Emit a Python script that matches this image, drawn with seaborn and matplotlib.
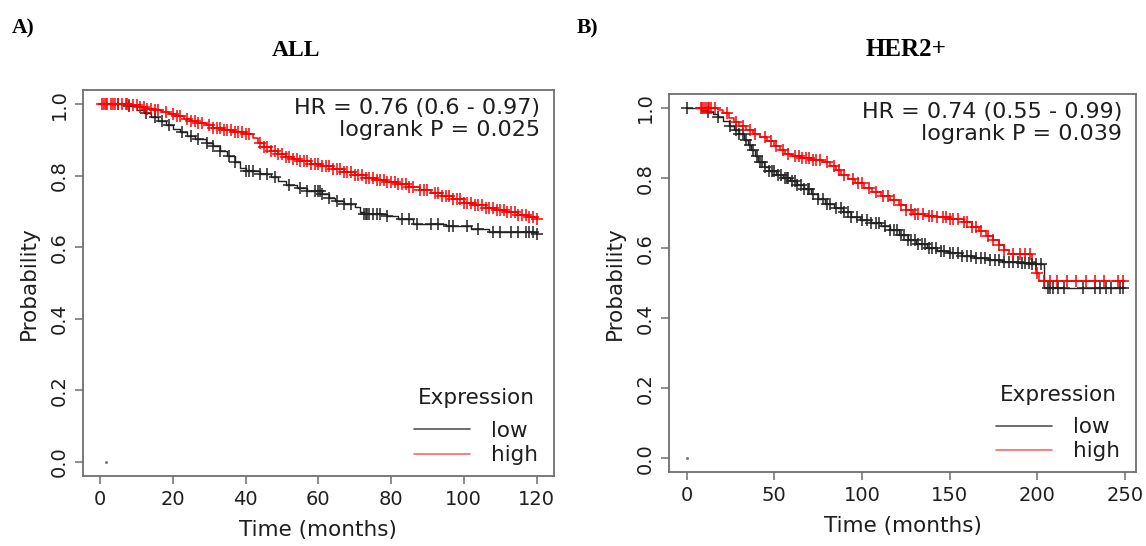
import numpy as np
import pandas as pd
import matplotlib
matplotlib.use("Agg")
import matplotlib.pyplot as plt
from matplotlib.lines import Line2D
import seaborn as sns

# ---- ALL patients: Kaplan-Meier step values (months, survival probability) ----
all_low_t = [0, 7, 10, 12, 14, 16, 18, 20, 22, 24, 26, 29, 31, 33, 35, 37, 38.5, 40, 44, 47,
             49, 51, 54, 57, 61, 63, 64.5, 67, 70, 71.5, 72.5, 79, 82, 86, 95, 102, 107, 120]
all_low_s = [1.0, 0.995, 0.985, 0.975, 0.965, 0.953, 0.942, 0.932, 0.922, 0.912, 0.903, 0.893,
             0.883, 0.870, 0.855, 0.838, 0.822, 0.812, 0.805, 0.796, 0.785, 0.773, 0.766, 0.757,
             0.750, 0.738, 0.728, 0.720, 0.714, 0.700, 0.694, 0.688, 0.680, 0.666, 0.660, 0.651,
             0.643, 0.638]
all_low_cens = [5, 8, 12.5, 15, 17, 19, 22.5, 25, 27, 29.5, 31, 33, 35.5, 37, 40, 41, 42, 44, 46,
                48, 52, 55, 57, 59, 60, 60.5, 61, 63, 65, 67, 69, 72.5, 73, 73.5, 74, 75, 76, 77,
                79, 83, 85, 87, 91, 93, 96, 97, 101, 104, 108, 110, 113, 115, 117, 118, 119, 120]

all_high_t = [0, 8, 11, 13, 15, 17, 19, 21, 23, 25, 27, 29, 31, 34, 37, 40, 42, 43.5, 45, 47,
              49, 51, 53, 55, 58, 61, 64, 67, 70, 73, 76, 79, 82, 85, 88, 91, 94, 97, 100, 103,
              106, 109, 112, 115, 118, 120]
all_high_s = [1.0, 0.997, 0.993, 0.988, 0.983, 0.977, 0.972, 0.966, 0.960, 0.954, 0.948, 0.942,
              0.935, 0.928, 0.922, 0.916, 0.905, 0.893, 0.881, 0.870, 0.861, 0.853, 0.846, 0.840,
              0.833, 0.826, 0.819, 0.811, 0.803, 0.795, 0.789, 0.782, 0.776, 0.768, 0.761, 0.753,
              0.743, 0.734, 0.725, 0.718, 0.711, 0.705, 0.698, 0.691, 0.684, 0.680]
all_high_cens = [0.5, 1, 1.5, 2, 3, 3.5, 4, 5, 6, 7, 7.5, 8, 9, 10, 11, 12, 13, 14, 15, 16, 18,
                 20, 21, 22, 24, 25, 26, 27, 28, 30, 31, 32, 33, 34, 35, 36, 37, 38, 39, 40, 41,
                 44, 45, 46, 47, 48, 49, 50, 51, 52, 53, 54, 55, 56, 57, 58, 59, 60, 61, 62, 63,
                 64, 65, 66, 67, 68, 69, 70, 71, 72, 73, 74, 75, 76, 77, 78, 79, 80, 81, 82, 83,
                 84, 85, 86, 88, 89, 90, 92, 93, 94, 95, 96, 97, 98, 99, 100, 101, 102, 103, 104,
                 105, 106, 107, 108, 109, 110, 111, 112, 113, 114, 115, 116, 117, 118, 119, 120]

# ---- HER2+ patients ----
her2_low_t = [0, 8, 12, 15, 18, 21, 24, 27, 30, 33, 35, 37, 39, 41, 44, 47, 51, 55, 59, 63, 67,
              71, 75, 79, 84, 89, 94, 99, 105, 111, 116, 121, 126, 131, 137, 143, 150, 157, 164,
              172, 180, 190, 196, 204, 248]
her2_low_s = [1.0, 0.995, 0.990, 0.983, 0.973, 0.962, 0.950, 0.938, 0.925, 0.910, 0.895, 0.880,
              0.862, 0.845, 0.832, 0.820, 0.810, 0.800, 0.791, 0.780, 0.768, 0.754, 0.740, 0.727,
              0.715, 0.703, 0.690, 0.680, 0.672, 0.662, 0.652, 0.638, 0.624, 0.612, 0.601, 0.592,
              0.585, 0.578, 0.572, 0.566, 0.561, 0.558, 0.555, 0.487, 0.487]
her2_low_cens = [0, 12, 18, 25, 28, 30, 32, 34, 36, 38, 40, 42, 43, 45, 47, 49, 50, 52, 54, 56,
                 57, 58, 60, 62, 63, 65, 67, 69, 70, 72, 75, 78, 80, 82, 85, 88, 90, 92, 94, 97,
                 100, 103, 105, 108, 110, 113, 116, 118, 120, 122, 124, 126, 128, 130, 132, 134,
                 136, 138, 140, 142, 145, 147, 150, 152, 155, 157, 160, 162, 165, 168, 170, 173,
                 176, 178, 181, 184, 186, 189, 191, 193, 195, 197, 199, 202, 206, 207, 209, 212,
                 215, 226, 233, 236, 239, 242, 247, 249]

her2_high_t = [6, 18, 21, 24, 27, 30, 34, 38, 42, 46, 50, 53, 56, 60, 66, 72, 78, 82, 85, 88, 92,
               96, 101, 106, 111, 116, 121, 125, 129, 136, 143, 150, 158, 163, 167, 171, 175,
               178, 181, 184, 197, 199, 201, 250]
her2_high_s = [1.0, 0.995, 0.985, 0.972, 0.960, 0.948, 0.937, 0.926, 0.916, 0.905, 0.893, 0.880,
               0.869, 0.862, 0.857, 0.853, 0.845, 0.835, 0.822, 0.810, 0.797, 0.786, 0.772,
               0.760, 0.748, 0.736, 0.722, 0.708, 0.698, 0.692, 0.688, 0.684, 0.676, 0.660,
               0.648, 0.636, 0.622, 0.608, 0.596, 0.584, 0.560, 0.530, 0.507, 0.507]
her2_high_cens = [8, 9, 10, 11, 12, 13, 14, 16, 23, 28, 32, 36, 39, 45, 48, 51, 55, 58, 62, 64,
                  66, 68, 70, 72, 74, 76, 80, 84, 87, 90, 95, 98, 100, 104, 108, 112, 115, 118,
                  122, 125, 128, 130, 132, 135, 138, 140, 143, 146, 148, 150, 152, 155, 158, 160,
                  163, 165, 168, 172, 175, 178, 181, 186, 190, 193, 196, 200, 204, 207, 211, 217,
                  222, 228, 233, 238, 246, 249]

group_labels = ["low", "high"]
panel_titles = ["ALL", "HER2+"]
panel_tags = ["A)", "B)"]
hr_texts = ["HR = 0.76 (0.6 - 0.97)\nlogrank P = 0.025",
            "HR = 0.74 (0.55 - 0.99)\nlogrank P = 0.039"]
x_ticks = [[0, 20, 40, 60, 80, 100, 120], [0, 50, 100, 150, 200, 250]]
y_ticks = [0.0, 0.2, 0.4, 0.6, 0.8, 1.0]

sns.set_theme(style="white")
plt.rcParams["font.family"] = ["DejaVu Sans"]

fig = plt.figure(figsize=(11.46, 5.46), dpi=100)
axA = fig.add_axes([0.0722, 0.1282, 0.4112, 0.7070])
axB = fig.add_axes([0.5838, 0.1350, 0.4075, 0.6928])

spine_col = "#6e6e6e"
text_col = "#1e1e1e"


def step_value(times, surv, at):
    idx = np.searchsorted(np.asarray(times), np.asarray(at), side="right") - 1
    idx = np.clip(idx, 0, len(surv) - 1)
    return np.asarray(surv)[idx]


def km_panel(ax, curves, xlim, xt, origin_x):
    for times, surv, cens, col, lw in curves:
        df = pd.DataFrame({"t": times, "s": surv})
        sns.lineplot(data=df, x="t", y="s", ax=ax, color=col, linewidth=lw,
                     drawstyle="steps-post", estimator=None, sort=False, legend=False)
        cdf = pd.DataFrame({"t": cens, "s": step_value(times, surv, cens)})
        sns.scatterplot(data=cdf, x="t", y="s", ax=ax, marker="+", color=col, s=80,
                        linewidth=1.1, legend=False, zorder=3)
    ax.plot([origin_x], [0.0], marker="s", ms=1.0, color="#777777", lw=0)
    ax.set_xlim(*xlim)
    ax.set_ylim(-0.04, 1.04)
    ax.set_xticks(xt)
    ax.set_yticks(y_ticks)
    ax.set_yticklabels([f"{v:.1f}" for v in y_ticks], rotation=90, va="center")
    ax.tick_params(axis="both", which="both", direction="out", length=6, width=1.1,
                   color=spine_col, labelsize=14, labelcolor=text_col, pad=4,
                   bottom=True, left=True)
    ax.set_xlabel("Time (months)", fontsize=15.5, color=text_col, labelpad=8)
    ax.set_ylabel("Probability", fontsize=15.5, color=text_col, labelpad=8)
    for sp in ax.spines.values():
        sp.set_color(spine_col)
        sp.set_linewidth(1.3)
    ax.grid(False)


km_panel(axA, [
    (all_low_t, all_low_s, all_low_cens, "#222222", 1.0),
    (all_high_t, all_high_s, all_high_cens, "#ff0000", 1.1),
], (-4.8, 124.8), x_ticks[0], 1.5)

km_panel(axB, [
    (her2_low_t, her2_low_s, her2_low_cens, "#222222", 1.0),
    (her2_high_t, her2_high_s, her2_high_cens, "#ff0000", 1.1),
], (-10, 256.3), x_ticks[1], 0)

for ax, txt in zip([axA, axB], hr_texts):
    ax.text(0.97, 0.978, txt, transform=ax.transAxes, ha="right", va="top",
            fontsize=16, color=text_col, linespacing=1.1)
    handles = [Line2D([0], [0], color="#555555", lw=1.2),
               Line2D([0], [0], color="#ff6666", lw=1.2)]
    leg = ax.legend(handles, group_labels, title="Expression", loc="lower right",
                    bbox_to_anchor=(0.985, 0.006), frameon=False, fontsize=15.5,
                    title_fontsize=15.5, handlelength=2.6, handletextpad=1.0,
                    labelspacing=0.2, borderaxespad=0)
    leg._legend_box.sep = 9
    for t in leg.get_texts():
        t.set_color(text_col)
    leg.get_title().set_color(text_col)

serif = ["Liberation Serif", "DejaVu Serif"]
fig.text(12 / 1146, 1 - 28 / 546, panel_tags[0], family=serif, fontweight="bold",
         fontsize=15.5, ha="left", va="center", color="black")
fig.text(577 / 1146, 1 - 28 / 546, panel_tags[1], family=serif, fontweight="bold",
         fontsize=15.5, ha="left", va="center", color="black")
fig.text(296 / 1146, 1 - 50 / 546, panel_titles[0], family=serif, fontweight="bold",
         fontsize=17, ha="center", va="center", color="black")
fig.text(906 / 1146, 1 - 50 / 546, panel_titles[1], family=serif, fontweight="bold",
         fontsize=18, ha="center", va="center", color="black")

fig.savefig("out.png", dpi=100)
